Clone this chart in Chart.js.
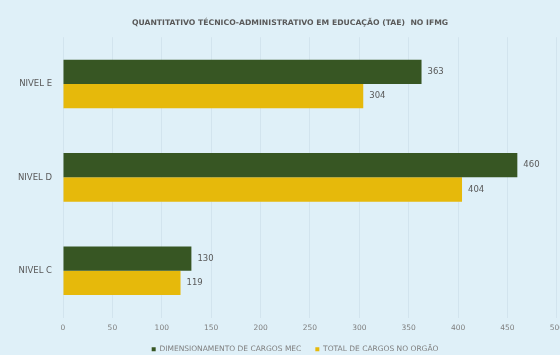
<!DOCTYPE html>
<html>
<head>
<meta charset="utf-8">
<script src="https://cdn.jsdelivr.net/npm/chart.js@4/dist/chart.umd.min.js"></script>
<style>
html,body{margin:0;padding:0;background:#dff0f8;overflow:hidden;}
#wrap{width:560px;height:355px;overflow:hidden;position:relative;}
#box{position:absolute;left:0;top:0;width:570px;height:355px;}
</style>
</head>
<body>
<div id="wrap"><div id="box"><canvas id="c"></canvas></div></div>
<script>
const title = "QUANTITATIVO TÉCNICO-ADMINISTRATIVO EM EDUCAÇÃO (TAE)  NO IFMG";
const categories = ["NIVEL E", "NIVEL D", "NIVEL C"];
const seriesNames = ["DIMENSIONAMENTO DE CARGOS MEC", "TOTAL DE CARGOS NO ORGÃO"];
const mecValues = [363, 460, 130];
const orgaoValues = [304, 404, 119];
const xTicks = [0, 50, 100, 150, 200, 250, 300, 350, 400, 450, 500];

const FONT = "'DejaVu Sans', sans-serif";
const valueLabels = {
  id: 'valueLabels',
  afterDatasetsDraw(chart) {
    const ctx = chart.ctx;
    ctx.save();
    ctx.font = "8.5px " + FONT;
    ctx.fillStyle = "#595959";
    ctx.textBaseline = "middle";
    ctx.textAlign = "left";
    chart.data.datasets.forEach((ds, i) => {
      const meta = chart.getDatasetMeta(i);
      meta.data.forEach((el, j) => {
        ctx.fillText(String(ds.data[j]), el.x + 6, el.y);
      });
    });
    ctx.restore();
  }
};
const shiftBoxes = {
  id: 'shiftBoxes',
  afterLayout(chart) {
    if (chart.legend) { chart.legend.left += 10; chart.legend.right += 10; }
    if (chart.titleBlock) { chart.titleBlock.left += 5; chart.titleBlock.right += 5; }
  }
};

new Chart(document.getElementById('c'), {
  type: 'bar',
  data: {
    labels: categories,
    datasets: [
      { label: seriesNames[0], data: mecValues, backgroundColor: '#375623', borderWidth: 0 },
      { label: seriesNames[1], data: orgaoValues, backgroundColor: '#e6b90b', borderWidth: 0 }
    ]
  },
  options: {
    indexAxis: 'y',
    responsive: true,
    maintainAspectRatio: false,
    animation: false,
    layout: { padding: { left: 0, right: 0, top: 0, bottom: -8 } },
    datasets: { bar: { categoryPercentage: 0.52, barPercentage: 1.0 } },
    scales: {
      x: {
        min: 0, max: 500,
        afterBuildTicks(scale) { scale.ticks = xTicks.map(v => ({ value: v })); },
        afterFit(scale) { scale.height = 14; },
        grid: { color: 'rgba(190,210,222,0.4)', drawTicks: false },
        border: { display: false },
        ticks: { padding: 6, color: '#7f7f7f', font: { size: 7.5, family: FONT }, maxRotation: 0 }
      },
      y: {
        afterFit(scale) { scale.width = 63; },
        grid: { display: false },
        border: { display: false },
        ticks: { padding: 3, color: '#595959', font: { size: 8.5, family: FONT } }
      }
    },
    plugins: {
      title: {
        display: true, text: title, color: '#595959',
        font: { size: 7.7, weight: 'bold', family: FONT },
        padding: { top: 18, bottom: 10 }
      },
      legend: {
        position: 'bottom',
        labels: {
          color: '#7f7f7f', font: { size: 7.5, family: FONT },
          usePointStyle: true, pointStyle: 'rect', boxWidth: 4, boxHeight: 4, padding: 14
        }
      },
      tooltip: { enabled: false }
    }
  },
  plugins: [valueLabels, shiftBoxes]
});
</script>
</body>
</html>
